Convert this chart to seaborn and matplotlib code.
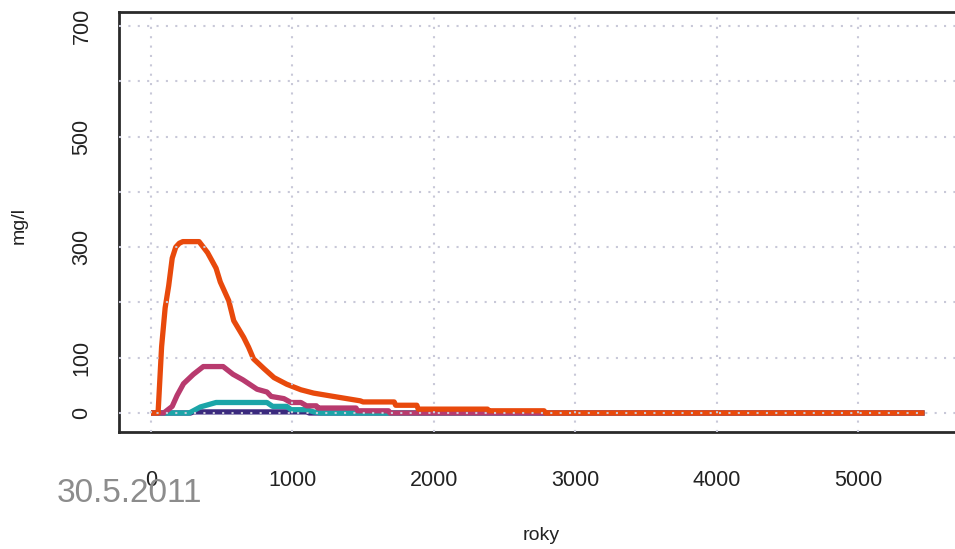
import numpy as np
import pandas as pd
import seaborn as sns
import matplotlib
matplotlib.use("Agg")
from matplotlib import pyplot as plt

# data (roky vs mg/l)
orange_x = [0, 50, 75, 100, 125, 150, 175, 200, 225, 340, 400, 460, 490, 550, 585, 655, 690, 725, 800, 870,
            960, 1060, 1150, 1290, 1480, 1500, 1720, 1730, 1880, 1890, 2380, 2390, 2780, 2790, 5470]
orange_y = [0, 0, 120, 190, 230, 280, 300, 307, 310, 310, 290, 262, 237, 203, 167, 137, 119, 98, 80, 64,
            52, 42, 36, 30, 22, 20, 20, 14, 14, 7, 7, 4, 4, 0, 0]

magenta_x = [0, 90, 150, 185, 230, 300, 370, 510, 580, 650, 750, 820, 850, 940, 990, 1060, 1100, 1170,
             1180, 1450, 1460, 1680, 1690, 5470]
magenta_y = [0, 0, 12, 32, 53, 70, 84, 84, 70, 60, 43, 38, 30, 26, 19, 19, 13, 13,
             9, 9, 4, 4, 0, 0]

teal_x = [0, 270, 350, 460, 820, 860, 960, 990, 1100, 1150, 1200, 5470]
teal_y = [0, 0, 11, 19, 19, 12, 12, 6, 6, 2, 0, 0]

purple_x = [0, 280, 300, 1100, 1120, 5470]
purple_y = [0, 0, 2, 2, 0, 0]

series = ["purple", "teal", "magenta", "orange"]
colors = ["#3b2a7e", "#1ba5a8", "#b83a6e", "#e8490c"]

df = pd.concat([
    pd.DataFrame({"roky": purple_x, "mg": purple_y, "serie": "purple"}),
    pd.DataFrame({"roky": teal_x, "mg": teal_y, "serie": "teal"}),
    pd.DataFrame({"roky": magenta_x, "mg": magenta_y, "serie": "magenta"}),
    pd.DataFrame({"roky": orange_x, "mg": orange_y, "serie": "orange"}),
], ignore_index=True)

x_ticks = [0, 1000, 2000, 3000, 4000, 5000]
y_ticks = [0, 100, 200, 300, 400, 500, 600, 700]
y_labels = ["0", "100", "", "300", "", "500", "", "700"]

sns.set_style("white")
plt.rcParams["font.family"] = ["Liberation Sans", "DejaVu Sans"]

W, H = 955, 549
fig = plt.figure(figsize=(W / 100, H / 100), dpi=100)
ax = fig.add_axes([119 / W, 1 - 432 / H, (960 - 119) / W, (432 - 12) / H])

sns.lineplot(data=df, x="roky", y="mg", hue="serie", hue_order=series,
             palette=colors, sort=False, estimator=None, linewidth=3.8,
             legend=False, ax=ax, solid_capstyle="butt")

px = 1000 / 141.4
ax.set_xlim(-32 * px, (960 - 151) * px)
py = 700 / (413 - 26)
ax.set_ylim(-(432 - 413) * py, (413 - 12) * py)

ax.set_xticks(x_ticks)
ax.set_yticks(y_ticks)
ax.set_yticklabels(y_labels, rotation=90, va="center")
ax.tick_params(axis="both", direction="out", length=9, width=2, color="#2a2a2a",
               labelsize=15.5, labelcolor="#222222")
ax.tick_params(axis="x", pad=18)
ax.tick_params(axis="y", pad=10)

ax.set_axisbelow(False)
ax.grid(True, color="#c8c8d8", linestyle=(0, (1, 3.5)), linewidth=1.5)

for s in ["left", "bottom", "top"]:
    ax.spines[s].set_visible(True)
    ax.spines[s].set_color("#2a2a2a")
    ax.spines[s].set_linewidth(2)
ax.spines["right"].set_visible(False)

ax.set_xlabel("")
ax.set_ylabel("")
fig.text(19 / W, 1 - 225 / H, "mg/l", rotation=90, ha="center", va="center",
         fontsize=14, color="#222222")
fig.text(541 / W, 1 - 535 / H, "roky", ha="center", va="center",
         fontsize=14, color="#222222")
fig.text(57 / W, 1 - 494 / H, "30.5.2011", ha="left", va="center",
         fontsize=24, color="#8c8c8c")

fig.savefig("out.png", dpi=100)
